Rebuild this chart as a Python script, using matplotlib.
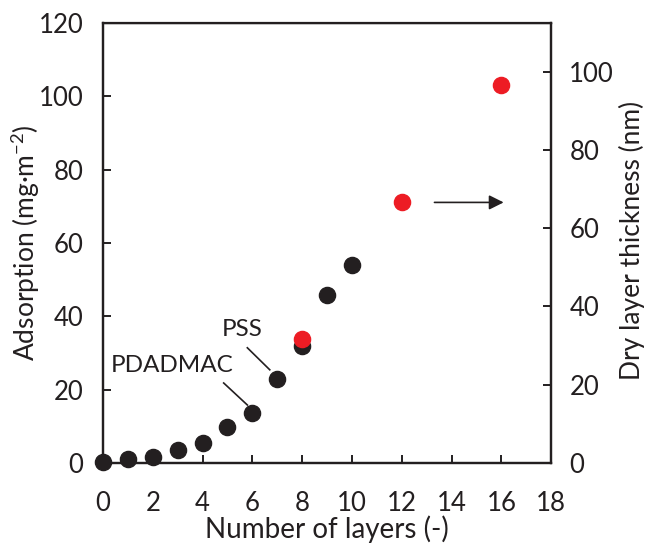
import matplotlib
matplotlib.use('Agg')
import matplotlib.pyplot as plt

plt.rcParams['font.family'] = ['Lato', 'DejaVu Sans']
plt.rcParams['mathtext.default'] = 'regular'

# adsorption per layer (left axis)
camadas = [0, 1, 2, 3, 4, 5, 6, 7, 8, 9, 10]
adsorcao = [0.3, 1.0, 1.6, 3.5, 5.5, 9.7, 13.5, 22.8, 31.8, 45.7, 54.0]

# dry layer thickness (right axis)
camadas_esp = [8, 12, 16]
espessura = [31.7, 66.8, 96.7]

x_ticks = list(range(0, 19, 2))
y_ticks = [0, 20, 40, 60, 80, 100, 120]
y2_ticks = [0, 20, 40, 60, 80, 100]

preto = '#231f20'
vermelho = '#ed1c24'

fig = plt.figure(figsize=(6.47, 5.44), dpi=100)
ax = fig.add_axes([0.159, 0.149, 0.693, 0.809])
ax2 = ax.twinx()

ax.scatter(camadas, adsorcao, s=135, color=preto, zorder=3, clip_on=False)
ax2.scatter(camadas_esp, espessura, s=135, color=vermelho, zorder=4, clip_on=False)

ax.set_xlim(0, 18)
ax.set_ylim(0, 120)
ax2.set_ylim(0, 112.5)
ax.set_xticks(x_ticks)
ax.set_yticks(y_ticks)
ax2.set_yticks(y2_ticks)

for a in (ax, ax2):
    for s in a.spines.values():
        s.set_linewidth(1.6)
        s.set_color(preto)
ax.spines['top'].set_linewidth(1.0)

ax.tick_params(axis='both', direction='in', length=6, width=1.4, labelsize=18.5, colors=preto)
ax.tick_params(axis='y', pad=14)
ax.tick_params(axis='x', pad=20)
ax2.tick_params(axis='y', direction='in', length=6, width=1.4, labelsize=18.5, pad=13, colors=preto)

ax.set_xlabel('Number of layers (-)', fontsize=20, color=preto, va='center')
ax.set_ylabel('Adsorption (mg·m$^{-2}$)', fontsize=19, color=preto, va='center')
ax2.set_ylabel('Dry layer thickness (nm)', fontsize=19, color=preto, va='center')
ax.xaxis.set_label_coords(0.5, -0.151)
ax.yaxis.set_label_coords(-0.172, 0.5)
ax2.yaxis.set_label_coords(1.181, 0.505)

# labels
ax.text(5.6, 36.3, 'PSS', fontsize=17.5, ha='center', va='center', color=preto)
ax.plot([5.8, 6.7], [31.4, 25.4], color=preto, lw=1.2)
ax.text(2.8, 26.5, 'PDADMAC', fontsize=17.5, ha='center', va='center', color=preto)
ax.plot([4.85, 5.8], [21.8, 15.8], color=preto, lw=1.2)

ax2.annotate('', xy=(16.2, 66.6), xytext=(13.2, 66.6),
             arrowprops=dict(arrowstyle='-|>', color=preto, lw=1.2, mutation_scale=22))

fig.savefig('out.png', dpi=100)
